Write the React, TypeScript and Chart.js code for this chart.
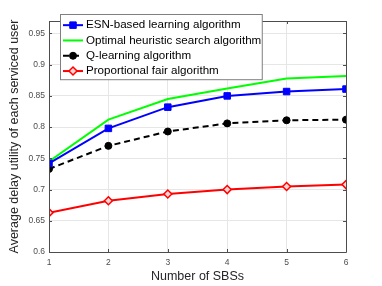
import React, { useEffect, useRef } from "react";
import { Chart, registerables } from "chart.js";

Chart.register(...registerables);

const sbs = [1, 2, 3, 4, 5, 6];
const esn = [0.742, 0.798, 0.832, 0.85, 0.857, 0.861];
const optimal = [0.745, 0.812, 0.845, 0.862, 0.878, 0.882];
const qlearn = [0.733, 0.77, 0.793, 0.806, 0.811, 0.812];
const propFair = [0.663, 0.682, 0.693, 0.7, 0.705, 0.708];
const yTicks = [0.6, 0.65, 0.7, 0.75, 0.8, 0.85, 0.9, 0.95];
const xTicks = [1, 2, 3, 4, 5, 6];

const FONT = "'Liberation Sans', Arial, Helvetica, sans-serif";

const boxPlugin = {
  id: "matlabBox",
  afterDatasetsDraw(chart: any) {
    const { ctx, chartArea: a, scales } = chart;
    ctx.save();
    ctx.strokeStyle = "#4d4d4d";
    ctx.lineWidth = 1;
    ctx.beginPath();
    ctx.rect(Math.round(a.left) + 0.5, Math.round(a.top) + 0.5, Math.round(a.right - a.left), Math.round(a.bottom - a.top));
    ctx.stroke();
    const t = 3;
    ctx.beginPath();
    for (const v of xTicks) {
      const x = Math.round(scales.x.getPixelForValue(v)) + 0.5;
      ctx.moveTo(x, a.bottom); ctx.lineTo(x, a.bottom - t);
      ctx.moveTo(x, a.top); ctx.lineTo(x, a.top + t);
    }
    for (const v of yTicks) {
      const y = Math.round(scales.y.getPixelForValue(v)) + 0.5;
      ctx.moveTo(a.left, y); ctx.lineTo(a.left + t, y);
      ctx.moveTo(a.right, y); ctx.lineTo(a.right - t, y);
    }
    ctx.stroke();
    ctx.restore();
  },
  afterDraw(chart: any) {
    const { ctx } = chart;
    const ds = chart.data.datasets;
    ctx.save();
    ctx.font = `11.6px ${FONT}`;
    let maxW = 0;
    ds.forEach((d: any) => { maxW = Math.max(maxW, ctx.measureText(d.label).width); });
    const bx = 60.5, by = 14.5;
    const rowH = 15.3;
    const textX = 86;
    const bw = textX - bx + maxW + 1;
    const bh = rowH * ds.length + 4;
    ctx.fillStyle = "#ffffff";
    ctx.fillRect(bx, by, bw, bh);
    ctx.strokeStyle = "#7f7f7f";
    ctx.lineWidth = 1;
    ctx.strokeRect(bx, by, bw, bh);
    ds.forEach((d: any, i: number) => {
      const cy = by + 2.5 + rowH * (i + 0.5) + 0.5;
      ctx.strokeStyle = d.borderColor;
      ctx.lineWidth = d.borderWidth;
      ctx.setLineDash(d.borderDash || []);
      ctx.beginPath();
      ctx.moveTo(63, cy); ctx.lineTo(83, cy);
      ctx.stroke();
      ctx.setLineDash([]);
      if (d.pointRadius > 0) {
        const r = d.pointRadius;
        ctx.fillStyle = d.pointBackgroundColor;
        ctx.strokeStyle = d.pointBorderColor;
        ctx.lineWidth = d.pointBorderWidth;
        ctx.beginPath();
        if (d.pointStyle === "rect") {
          const s = r * Math.SQRT1_2;
          ctx.rect(73 - s, cy - s, 2 * s, 2 * s);
        } else if (d.pointStyle === "rectRot") {
          ctx.moveTo(73, cy - r); ctx.lineTo(73 + r, cy); ctx.lineTo(73, cy + r); ctx.lineTo(73 - r, cy); ctx.closePath();
        } else {
          ctx.arc(73, cy, r, 0, Math.PI * 2);
        }
        ctx.fill();
        ctx.stroke();
      }
      ctx.fillStyle = "#000000";
      ctx.textBaseline = "middle";
      ctx.textAlign = "left";
      ctx.fillText(d.label, textX, cy);
    });
    ctx.restore();
  },
};

export default function App() {
  const ref = useRef<HTMLCanvasElement>(null);
  useEffect(() => {
    document.body.style.margin = "0";
    const toPts = (arr: number[]) => sbs.map((x, i) => ({ x, y: arr[i] }));
    const chart = new Chart(ref.current!, {
      type: "line",
      data: {
        datasets: [
          {
            label: "ESN-based learning algorithm",
            data: toPts(esn),
            borderColor: "#0000ff",
            borderWidth: 2,
            pointStyle: "rect",
            pointRadius: 4.6,
            pointBackgroundColor: "#0000ff",
            pointBorderColor: "#0000ff",
            pointBorderWidth: 1,
          } as any,
          {
            label: "Optimal heuristic search algorithm",
            data: toPts(optimal),
            borderColor: "#00ff00",
            borderWidth: 2,
            pointRadius: 0,
            pointBackgroundColor: "#00ff00",
            pointBorderColor: "#00ff00",
            pointBorderWidth: 1,
          },
          {
            label: "Q-learning algorithm",
            data: toPts(qlearn),
            borderColor: "#000000",
            borderWidth: 2,
            borderDash: [6, 4],
            pointStyle: "circle",
            pointRadius: 3.5,
            pointBackgroundColor: "#000000",
            pointBorderColor: "#000000",
            pointBorderWidth: 1,
          },
          {
            label: "Proportional fair algorithm",
            data: toPts(propFair),
            borderColor: "#ff0000",
            borderWidth: 2,
            pointStyle: "rectRot",
            pointRadius: 4,
            pointBackgroundColor: "#ffd6d6",
            pointBorderColor: "#ff0000",
            pointBorderWidth: 1.5,
          },
        ],
      },
      options: {
        responsive: false,
        animation: false,
        layout: { padding: { top: 21, right: 36, left: 0, bottom: 0 } },
        plugins: { legend: { display: false }, tooltip: { enabled: false } },
        scales: {
          x: {
            type: "linear",
            min: 1,
            max: 6,
            afterBuildTicks: (s: any) => { s.ticks = xTicks.map((v) => ({ value: v })); },
            afterFit: (s: any) => { s.height = 34; },
            grid: { color: "#e6e6e6", drawTicks: false },
            border: { display: false },
            ticks: { padding: 6, color: "#4d4d4d", font: { family: FONT, size: 8.5 }, maxRotation: 0 },
            title: { display: true, text: "Number of SBSs", color: "#262626", font: { family: FONT, size: 12.5 }, padding: { top: 0, bottom: 1.5 } },
          },
          y: {
            type: "linear",
            min: 0.6,
            max: 0.97,
            afterBuildTicks: (s: any) => { s.ticks = yTicks.map((v) => ({ value: v })); },
            afterFit: (s: any) => { s.width = 49; },
            grid: { color: "#e6e6e6", drawTicks: false },
            border: { display: false },
            ticks: { padding: 4, color: "#4d4d4d", font: { family: FONT, size: 8.5 }, callback: (v: any) => String(v) },
            title: { display: true, text: "Average delay utility of each serviced user", color: "#262626", font: { family: FONT, size: 12.5 }, padding: { top: 7.5, bottom: 0 } },
          },
        },
      },
      plugins: [boxPlugin],
    } as any);
    return () => chart.destroy();
  }, []);
  return <canvas ref={ref} width={382} height={286} style={{ display: "block" }} />;
}
